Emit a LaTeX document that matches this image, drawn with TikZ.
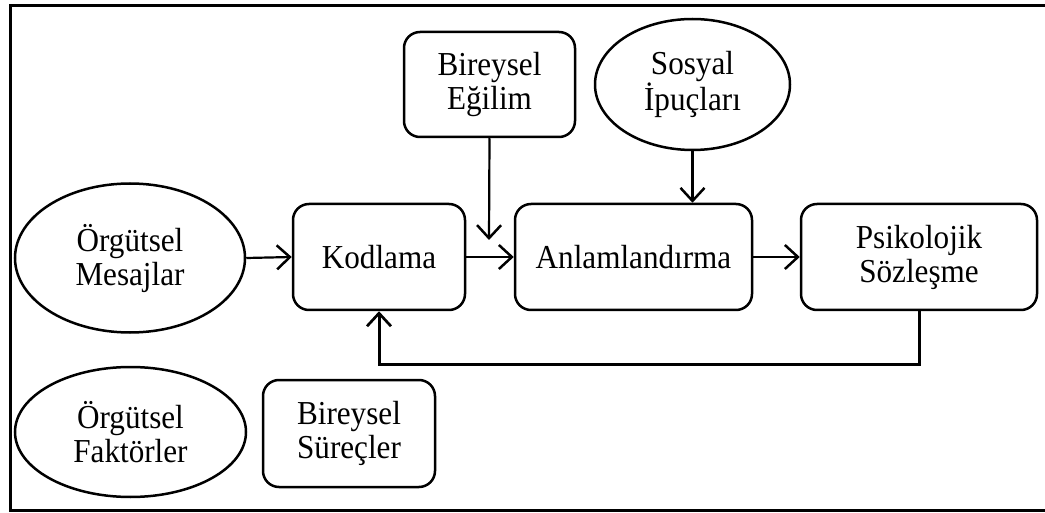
\documentclass[tikz,border=0pt]{standalone}
\usepackage{fontspec}
\setmainfont[FakeStretch=0.93]{Liberation Serif}
\usetikzlibrary{shapes.geometric,arrows.meta}
\begin{document}
\begin{tikzpicture}[x=1pt,y=-1pt,
  txt/.style={font=\fontsize{33.5}{34}\selectfont, align=center, inner sep=0pt},
  rbox/.style={txt, draw, line width=2.5pt, rounded corners=16pt},
  ell/.style={txt, draw, ellipse, line width=2.5pt},
  arr/.style={line width=2.2pt, -{Straight Barb[length=13pt,width=24pt,line width=2.5pt]}},
  fb/.style={line width=3pt, -{Straight Barb[length=13pt,width=24pt,line width=2.7pt]}}
]
\useasboundingbox (0,0) rectangle (1045,513);
% frame (right side lies outside the picture)
\draw[line width=3pt] (1050,6) -- (10,6) -- (10,510) -- (1050,510);

\node[ell, minimum width=230, minimum height=149] (mesaj) at (130,258) {Örgütsel\\Mesajlar};
\node[rbox, minimum width=172, minimum height=106] (kod) at (379,257) {Kodlama};
\node[rbox, minimum width=237, minimum height=106] (anlam) at (633.5,257) {Anlamlandırma};
\node[rbox, minimum width=236, minimum height=106] (psiko) at (919,257) {Psikolojik\\Sözleşme};
\node[rbox, minimum width=171, minimum height=105] (egilim) at (489.5,84.5) {Bireysel\\Eğilim};
\node[ell, minimum width=195, minimum height=131] (sosyal) at (692.5,84.5) {Sosyal\\İpuçları};
\node[ell, minimum width=231, minimum height=130] (faktor) at (130.5,432) {Örgütsel\\Faktörler};
\node[rbox, minimum width=172, minimum height=107] (surec) at (349,433.5) {Bireysel\\Süreçler};

\coordinate (egilimEnd) at (489,240);

\draw[arr] (mesaj.east) -- (kod.west);
\draw[arr] (kod.east) -- (anlam.west);
\draw[arr] (anlam.east) -- (psiko.west);
\draw[arr] (egilim.south) -- (egilimEnd);
\draw[arr] (sosyal.south) -- (sosyal.south |- anlam.north);
\draw[fb] (psiko.south) -- (psiko.south |- 0,364) -| (kod.south);
\end{tikzpicture}
\end{document}
